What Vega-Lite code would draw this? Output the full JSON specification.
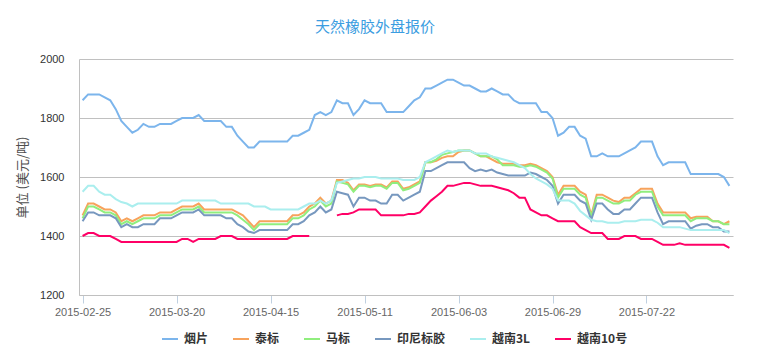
{
"$schema": "https://vega.github.io/schema/vega-lite/v6.json",
"width": 654, "height": 236,
"autosize": {"type": "none"},
"padding": {"left": 79, "top": 59, "right": 24, "bottom": 68},
"background": "white",
"config": {"view": {"stroke": null}, "font": "Liberation Sans"},
"title": {"text": "天然橡胶外盘报价", "font": "Noto Sans CJK SC", "fontSize": 15, "fontWeight": "normal", "color": "#3b9de1", "anchor": "middle", "frame": "bounds", "offset": 18},
"datasets": {"rows": [
{"d":"2015-02-25","s":"烟片","v":1860},{"d":"2015-02-26","s":"烟片","v":1880},{"d":"2015-02-27","s":"烟片","v":1880},{"d":"2015-03-02","s":"烟片","v":1880},{"d":"2015-03-03","s":"烟片","v":1870},{"d":"2015-03-04","s":"烟片","v":1860},{"d":"2015-03-05","s":"烟片","v":1830},{"d":"2015-03-06","s":"烟片","v":1790},{"d":"2015-03-09","s":"烟片","v":1770},{"d":"2015-03-10","s":"烟片","v":1750},
{"d":"2015-03-11","s":"烟片","v":1760},{"d":"2015-03-12","s":"烟片","v":1780},{"d":"2015-03-13","s":"烟片","v":1770},{"d":"2015-03-16","s":"烟片","v":1770},{"d":"2015-03-17","s":"烟片","v":1780},{"d":"2015-03-18","s":"烟片","v":1780},{"d":"2015-03-19","s":"烟片","v":1780},{"d":"2015-03-20","s":"烟片","v":1790},{"d":"2015-03-23","s":"烟片","v":1800},{"d":"2015-03-24","s":"烟片","v":1800},
{"d":"2015-03-25","s":"烟片","v":1800},{"d":"2015-03-26","s":"烟片","v":1810},{"d":"2015-03-27","s":"烟片","v":1790},{"d":"2015-03-30","s":"烟片","v":1790},{"d":"2015-03-31","s":"烟片","v":1790},{"d":"2015-04-01","s":"烟片","v":1790},{"d":"2015-04-02","s":"烟片","v":1770},{"d":"2015-04-06","s":"烟片","v":1770},{"d":"2015-04-07","s":"烟片","v":1740},{"d":"2015-04-08","s":"烟片","v":1720},
{"d":"2015-04-09","s":"烟片","v":1700},{"d":"2015-04-10","s":"烟片","v":1700},{"d":"2015-04-13","s":"烟片","v":1720},{"d":"2015-04-14","s":"烟片","v":1720},{"d":"2015-04-15","s":"烟片","v":1720},{"d":"2015-04-16","s":"烟片","v":1720},{"d":"2015-04-17","s":"烟片","v":1720},{"d":"2015-04-20","s":"烟片","v":1720},{"d":"2015-04-21","s":"烟片","v":1740},{"d":"2015-04-22","s":"烟片","v":1740},
{"d":"2015-04-23","s":"烟片","v":1750},{"d":"2015-04-24","s":"烟片","v":1760},{"d":"2015-04-27","s":"烟片","v":1810},{"d":"2015-04-28","s":"烟片","v":1820},{"d":"2015-04-29","s":"烟片","v":1810},{"d":"2015-04-30","s":"烟片","v":1820},{"d":"2015-05-04","s":"烟片","v":1860},{"d":"2015-05-05","s":"烟片","v":1850},{"d":"2015-05-06","s":"烟片","v":1850},{"d":"2015-05-07","s":"烟片","v":1810},
{"d":"2015-05-08","s":"烟片","v":1830},{"d":"2015-05-11","s":"烟片","v":1860},{"d":"2015-05-12","s":"烟片","v":1850},{"d":"2015-05-13","s":"烟片","v":1850},{"d":"2015-05-14","s":"烟片","v":1850},{"d":"2015-05-15","s":"烟片","v":1820},{"d":"2015-05-18","s":"烟片","v":1820},{"d":"2015-05-19","s":"烟片","v":1820},{"d":"2015-05-20","s":"烟片","v":1820},{"d":"2015-05-21","s":"烟片","v":1840},
{"d":"2015-05-22","s":"烟片","v":1860},{"d":"2015-05-25","s":"烟片","v":1870},{"d":"2015-05-26","s":"烟片","v":1900},{"d":"2015-05-27","s":"烟片","v":1900},{"d":"2015-05-28","s":"烟片","v":1910},{"d":"2015-05-29","s":"烟片","v":1920},{"d":"2015-06-01","s":"烟片","v":1930},{"d":"2015-06-02","s":"烟片","v":1930},{"d":"2015-06-03","s":"烟片","v":1920},{"d":"2015-06-04","s":"烟片","v":1910},
{"d":"2015-06-05","s":"烟片","v":1910},{"d":"2015-06-08","s":"烟片","v":1900},{"d":"2015-06-09","s":"烟片","v":1890},{"d":"2015-06-10","s":"烟片","v":1890},{"d":"2015-06-11","s":"烟片","v":1900},{"d":"2015-06-12","s":"烟片","v":1890},{"d":"2015-06-15","s":"烟片","v":1880},{"d":"2015-06-16","s":"烟片","v":1880},{"d":"2015-06-17","s":"烟片","v":1860},{"d":"2015-06-18","s":"烟片","v":1850},
{"d":"2015-06-19","s":"烟片","v":1850},{"d":"2015-06-23","s":"烟片","v":1850},{"d":"2015-06-24","s":"烟片","v":1850},{"d":"2015-06-25","s":"烟片","v":1820},{"d":"2015-06-26","s":"烟片","v":1820},{"d":"2015-06-29","s":"烟片","v":1800},{"d":"2015-06-30","s":"烟片","v":1740},{"d":"2015-07-01","s":"烟片","v":1750},{"d":"2015-07-02","s":"烟片","v":1770},{"d":"2015-07-03","s":"烟片","v":1770},
{"d":"2015-07-06","s":"烟片","v":1740},{"d":"2015-07-07","s":"烟片","v":1730},{"d":"2015-07-08","s":"烟片","v":1670},{"d":"2015-07-09","s":"烟片","v":1670},{"d":"2015-07-10","s":"烟片","v":1680},{"d":"2015-07-13","s":"烟片","v":1670},{"d":"2015-07-14","s":"烟片","v":1670},{"d":"2015-07-15","s":"烟片","v":1670},{"d":"2015-07-16","s":"烟片","v":1680},{"d":"2015-07-17","s":"烟片","v":1690},
{"d":"2015-07-20","s":"烟片","v":1700},{"d":"2015-07-21","s":"烟片","v":1720},{"d":"2015-07-22","s":"烟片","v":1720},{"d":"2015-07-23","s":"烟片","v":1720},{"d":"2015-07-24","s":"烟片","v":1670},{"d":"2015-07-27","s":"烟片","v":1640},{"d":"2015-07-28","s":"烟片","v":1650},{"d":"2015-07-29","s":"烟片","v":1650},{"d":"2015-07-30","s":"烟片","v":1650},{"d":"2015-07-31","s":"烟片","v":1650},
{"d":"2015-08-03","s":"烟片","v":1610},{"d":"2015-08-04","s":"烟片","v":1610},{"d":"2015-08-05","s":"烟片","v":1610},{"d":"2015-08-06","s":"烟片","v":1610},{"d":"2015-08-07","s":"烟片","v":1610},{"d":"2015-08-10","s":"烟片","v":1610},{"d":"2015-08-11","s":"烟片","v":1600},{"d":"2015-08-12","s":"烟片","v":1570},

{"d":"2015-02-25","s":"泰标","v":1470},{"d":"2015-02-26","s":"泰标","v":1510},{"d":"2015-02-27","s":"泰标","v":1510},{"d":"2015-03-02","s":"泰标","v":1500},{"d":"2015-03-03","s":"泰标","v":1490},{"d":"2015-03-04","s":"泰标","v":1490},{"d":"2015-03-05","s":"泰标","v":1480},{"d":"2015-03-06","s":"泰标","v":1450},{"d":"2015-03-09","s":"泰标","v":1460},{"d":"2015-03-10","s":"泰标","v":1450},
{"d":"2015-03-11","s":"泰标","v":1460},{"d":"2015-03-12","s":"泰标","v":1470},{"d":"2015-03-13","s":"泰标","v":1470},{"d":"2015-03-16","s":"泰标","v":1470},{"d":"2015-03-17","s":"泰标","v":1480},{"d":"2015-03-18","s":"泰标","v":1480},{"d":"2015-03-19","s":"泰标","v":1480},{"d":"2015-03-20","s":"泰标","v":1490},{"d":"2015-03-23","s":"泰标","v":1500},{"d":"2015-03-24","s":"泰标","v":1500},
{"d":"2015-03-25","s":"泰标","v":1500},{"d":"2015-03-26","s":"泰标","v":1510},{"d":"2015-03-27","s":"泰标","v":1490},{"d":"2015-03-30","s":"泰标","v":1490},{"d":"2015-03-31","s":"泰标","v":1490},{"d":"2015-04-01","s":"泰标","v":1490},{"d":"2015-04-02","s":"泰标","v":1490},{"d":"2015-04-06","s":"泰标","v":1490},{"d":"2015-04-07","s":"泰标","v":1480},{"d":"2015-04-08","s":"泰标","v":1470},
{"d":"2015-04-09","s":"泰标","v":1450},{"d":"2015-04-10","s":"泰标","v":1430},{"d":"2015-04-13","s":"泰标","v":1450},{"d":"2015-04-14","s":"泰标","v":1450},{"d":"2015-04-15","s":"泰标","v":1450},{"d":"2015-04-16","s":"泰标","v":1450},{"d":"2015-04-17","s":"泰标","v":1450},{"d":"2015-04-20","s":"泰标","v":1450},{"d":"2015-04-21","s":"泰标","v":1470},{"d":"2015-04-22","s":"泰标","v":1470},
{"d":"2015-04-23","s":"泰标","v":1480},{"d":"2015-04-24","s":"泰标","v":1500},{"d":"2015-04-27","s":"泰标","v":1510},{"d":"2015-04-28","s":"泰标","v":1530},{"d":"2015-04-29","s":"泰标","v":1510},{"d":"2015-04-30","s":"泰标","v":1520},{"d":"2015-05-04","s":"泰标","v":1590},{"d":"2015-05-05","s":"泰标","v":1590},{"d":"2015-05-06","s":"泰标","v":1580},{"d":"2015-05-07","s":"泰标","v":1555},
{"d":"2015-05-08","s":"泰标","v":1575},{"d":"2015-05-11","s":"泰标","v":1575},{"d":"2015-05-12","s":"泰标","v":1570},{"d":"2015-05-13","s":"泰标","v":1575},{"d":"2015-05-14","s":"泰标","v":1575},{"d":"2015-05-15","s":"泰标","v":1565},{"d":"2015-05-18","s":"泰标","v":1585},{"d":"2015-05-19","s":"泰标","v":1585},{"d":"2015-05-20","s":"泰标","v":1560},{"d":"2015-05-21","s":"泰标","v":1565},
{"d":"2015-05-22","s":"泰标","v":1575},{"d":"2015-05-25","s":"泰标","v":1585},{"d":"2015-05-26","s":"泰标","v":1650},{"d":"2015-05-27","s":"泰标","v":1650},{"d":"2015-05-28","s":"泰标","v":1655},{"d":"2015-05-29","s":"泰标","v":1665},{"d":"2015-06-01","s":"泰标","v":1670},{"d":"2015-06-02","s":"泰标","v":1670},{"d":"2015-06-03","s":"泰标","v":1685},{"d":"2015-06-04","s":"泰标","v":1690},
{"d":"2015-06-05","s":"泰标","v":1690},{"d":"2015-06-08","s":"泰标","v":1680},{"d":"2015-06-09","s":"泰标","v":1670},{"d":"2015-06-10","s":"泰标","v":1670},{"d":"2015-06-11","s":"泰标","v":1660},{"d":"2015-06-12","s":"泰标","v":1650},{"d":"2015-06-15","s":"泰标","v":1645},{"d":"2015-06-16","s":"泰标","v":1645},{"d":"2015-06-17","s":"泰标","v":1645},{"d":"2015-06-18","s":"泰标","v":1640},
{"d":"2015-06-19","s":"泰标","v":1640},{"d":"2015-06-23","s":"泰标","v":1645},{"d":"2015-06-24","s":"泰标","v":1640},{"d":"2015-06-25","s":"泰标","v":1630},{"d":"2015-06-26","s":"泰标","v":1620},{"d":"2015-06-29","s":"泰标","v":1600},{"d":"2015-06-30","s":"泰标","v":1540},{"d":"2015-07-01","s":"泰标","v":1570},{"d":"2015-07-02","s":"泰标","v":1570},{"d":"2015-07-03","s":"泰标","v":1570},
{"d":"2015-07-06","s":"泰标","v":1550},{"d":"2015-07-07","s":"泰标","v":1540},{"d":"2015-07-08","s":"泰标","v":1470},{"d":"2015-07-09","s":"泰标","v":1540},{"d":"2015-07-10","s":"泰标","v":1540},{"d":"2015-07-13","s":"泰标","v":1530},{"d":"2015-07-14","s":"泰标","v":1520},{"d":"2015-07-15","s":"泰标","v":1515},{"d":"2015-07-16","s":"泰标","v":1530},{"d":"2015-07-17","s":"泰标","v":1530},
{"d":"2015-07-20","s":"泰标","v":1545},{"d":"2015-07-21","s":"泰标","v":1560},{"d":"2015-07-22","s":"泰标","v":1560},{"d":"2015-07-23","s":"泰标","v":1560},{"d":"2015-07-24","s":"泰标","v":1510},{"d":"2015-07-27","s":"泰标","v":1480},{"d":"2015-07-28","s":"泰标","v":1480},{"d":"2015-07-29","s":"泰标","v":1480},{"d":"2015-07-30","s":"泰标","v":1480},{"d":"2015-07-31","s":"泰标","v":1480},
{"d":"2015-08-03","s":"泰标","v":1460},{"d":"2015-08-04","s":"泰标","v":1465},{"d":"2015-08-05","s":"泰标","v":1465},{"d":"2015-08-06","s":"泰标","v":1465},{"d":"2015-08-07","s":"泰标","v":1450},{"d":"2015-08-10","s":"泰标","v":1450},{"d":"2015-08-11","s":"泰标","v":1440},{"d":"2015-08-12","s":"泰标","v":1450},

{"d":"2015-02-25","s":"马标","v":1460},{"d":"2015-02-26","s":"马标","v":1500},{"d":"2015-02-27","s":"马标","v":1500},{"d":"2015-03-02","s":"马标","v":1490},{"d":"2015-03-03","s":"马标","v":1480},{"d":"2015-03-04","s":"马标","v":1480},{"d":"2015-03-05","s":"马标","v":1470},{"d":"2015-03-06","s":"马标","v":1440},{"d":"2015-03-09","s":"马标","v":1450},{"d":"2015-03-10","s":"马标","v":1440},
{"d":"2015-03-11","s":"马标","v":1450},{"d":"2015-03-12","s":"马标","v":1460},{"d":"2015-03-13","s":"马标","v":1460},{"d":"2015-03-16","s":"马标","v":1460},{"d":"2015-03-17","s":"马标","v":1470},{"d":"2015-03-18","s":"马标","v":1470},{"d":"2015-03-19","s":"马标","v":1470},{"d":"2015-03-20","s":"马标","v":1480},{"d":"2015-03-23","s":"马标","v":1490},{"d":"2015-03-24","s":"马标","v":1490},
{"d":"2015-03-25","s":"马标","v":1490},{"d":"2015-03-26","s":"马标","v":1500},{"d":"2015-03-27","s":"马标","v":1480},{"d":"2015-03-30","s":"马标","v":1480},{"d":"2015-03-31","s":"马标","v":1480},{"d":"2015-04-01","s":"马标","v":1480},{"d":"2015-04-02","s":"马标","v":1480},{"d":"2015-04-06","s":"马标","v":1480},{"d":"2015-04-07","s":"马标","v":1470},{"d":"2015-04-08","s":"马标","v":1455},
{"d":"2015-04-09","s":"马标","v":1440},{"d":"2015-04-10","s":"马标","v":1420},{"d":"2015-04-13","s":"马标","v":1440},{"d":"2015-04-14","s":"马标","v":1440},{"d":"2015-04-15","s":"马标","v":1440},{"d":"2015-04-16","s":"马标","v":1440},{"d":"2015-04-17","s":"马标","v":1440},{"d":"2015-04-20","s":"马标","v":1440},{"d":"2015-04-21","s":"马标","v":1460},{"d":"2015-04-22","s":"马标","v":1460},
{"d":"2015-04-23","s":"马标","v":1470},{"d":"2015-04-24","s":"马标","v":1490},{"d":"2015-04-27","s":"马标","v":1500},{"d":"2015-04-28","s":"马标","v":1520},{"d":"2015-04-29","s":"马标","v":1500},{"d":"2015-04-30","s":"马标","v":1510},{"d":"2015-05-04","s":"马标","v":1585},{"d":"2015-05-05","s":"马标","v":1580},{"d":"2015-05-06","s":"马标","v":1575},{"d":"2015-05-07","s":"马标","v":1550},
{"d":"2015-05-08","s":"马标","v":1570},{"d":"2015-05-11","s":"马标","v":1570},{"d":"2015-05-12","s":"马标","v":1565},{"d":"2015-05-13","s":"马标","v":1570},{"d":"2015-05-14","s":"马标","v":1570},{"d":"2015-05-15","s":"马标","v":1560},{"d":"2015-05-18","s":"马标","v":1580},{"d":"2015-05-19","s":"马标","v":1580},{"d":"2015-05-20","s":"马标","v":1555},{"d":"2015-05-21","s":"马标","v":1560},
{"d":"2015-05-22","s":"马标","v":1570},{"d":"2015-05-25","s":"马标","v":1580},{"d":"2015-05-26","s":"马标","v":1650},{"d":"2015-05-27","s":"马标","v":1650},{"d":"2015-05-28","s":"马标","v":1660},{"d":"2015-05-29","s":"马标","v":1675},{"d":"2015-06-01","s":"马标","v":1680},{"d":"2015-06-02","s":"马标","v":1685},{"d":"2015-06-03","s":"马标","v":1690},{"d":"2015-06-04","s":"马标","v":1690},
{"d":"2015-06-05","s":"马标","v":1690},{"d":"2015-06-08","s":"马标","v":1680},{"d":"2015-06-09","s":"马标","v":1670},{"d":"2015-06-10","s":"马标","v":1670},{"d":"2015-06-11","s":"马标","v":1670},{"d":"2015-06-12","s":"马标","v":1660},{"d":"2015-06-15","s":"马标","v":1640},{"d":"2015-06-16","s":"马标","v":1640},{"d":"2015-06-17","s":"马标","v":1640},{"d":"2015-06-18","s":"马标","v":1635},
{"d":"2015-06-19","s":"马标","v":1635},{"d":"2015-06-23","s":"马标","v":1640},{"d":"2015-06-24","s":"马标","v":1635},{"d":"2015-06-25","s":"马标","v":1625},{"d":"2015-06-26","s":"马标","v":1615},{"d":"2015-06-29","s":"马标","v":1595},{"d":"2015-06-30","s":"马标","v":1530},{"d":"2015-07-01","s":"马标","v":1560},{"d":"2015-07-02","s":"马标","v":1560},{"d":"2015-07-03","s":"马标","v":1560},
{"d":"2015-07-06","s":"马标","v":1540},{"d":"2015-07-07","s":"马标","v":1530},{"d":"2015-07-08","s":"马标","v":1465},{"d":"2015-07-09","s":"马标","v":1530},{"d":"2015-07-10","s":"马标","v":1530},{"d":"2015-07-13","s":"马标","v":1520},{"d":"2015-07-14","s":"马标","v":1510},{"d":"2015-07-15","s":"马标","v":1510},{"d":"2015-07-16","s":"马标","v":1520},{"d":"2015-07-17","s":"马标","v":1520},
{"d":"2015-07-20","s":"马标","v":1540},{"d":"2015-07-21","s":"马标","v":1550},{"d":"2015-07-22","s":"马标","v":1550},{"d":"2015-07-23","s":"马标","v":1550},{"d":"2015-07-24","s":"马标","v":1500},{"d":"2015-07-27","s":"马标","v":1470},{"d":"2015-07-28","s":"马标","v":1470},{"d":"2015-07-29","s":"马标","v":1470},{"d":"2015-07-30","s":"马标","v":1470},{"d":"2015-07-31","s":"马标","v":1470},
{"d":"2015-08-03","s":"马标","v":1450},{"d":"2015-08-04","s":"马标","v":1460},{"d":"2015-08-05","s":"马标","v":1460},{"d":"2015-08-06","s":"马标","v":1460},{"d":"2015-08-07","s":"马标","v":1450},{"d":"2015-08-10","s":"马标","v":1450},{"d":"2015-08-11","s":"马标","v":1440},{"d":"2015-08-12","s":"马标","v":1440},

{"d":"2015-02-25","s":"印尼标胶","v":1450},{"d":"2015-02-26","s":"印尼标胶","v":1480},{"d":"2015-02-27","s":"印尼标胶","v":1480},{"d":"2015-03-02","s":"印尼标胶","v":1470},{"d":"2015-03-03","s":"印尼标胶","v":1470},{"d":"2015-03-04","s":"印尼标胶","v":1470},{"d":"2015-03-05","s":"印尼标胶","v":1460},{"d":"2015-03-06","s":"印尼标胶","v":1430},{"d":"2015-03-09","s":"印尼标胶","v":1440},{"d":"2015-03-10","s":"印尼标胶","v":1430},
{"d":"2015-03-11","s":"印尼标胶","v":1430},{"d":"2015-03-12","s":"印尼标胶","v":1440},{"d":"2015-03-13","s":"印尼标胶","v":1440},{"d":"2015-03-16","s":"印尼标胶","v":1440},{"d":"2015-03-17","s":"印尼标胶","v":1460},{"d":"2015-03-18","s":"印尼标胶","v":1460},{"d":"2015-03-19","s":"印尼标胶","v":1460},{"d":"2015-03-20","s":"印尼标胶","v":1470},{"d":"2015-03-23","s":"印尼标胶","v":1480},{"d":"2015-03-24","s":"印尼标胶","v":1480},
{"d":"2015-03-25","s":"印尼标胶","v":1480},{"d":"2015-03-26","s":"印尼标胶","v":1490},{"d":"2015-03-27","s":"印尼标胶","v":1470},{"d":"2015-03-30","s":"印尼标胶","v":1470},{"d":"2015-03-31","s":"印尼标胶","v":1470},{"d":"2015-04-01","s":"印尼标胶","v":1470},{"d":"2015-04-02","s":"印尼标胶","v":1460},{"d":"2015-04-06","s":"印尼标胶","v":1460},{"d":"2015-04-07","s":"印尼标胶","v":1440},{"d":"2015-04-08","s":"印尼标胶","v":1430},
{"d":"2015-04-09","s":"印尼标胶","v":1415},{"d":"2015-04-10","s":"印尼标胶","v":1410},{"d":"2015-04-13","s":"印尼标胶","v":1420},{"d":"2015-04-14","s":"印尼标胶","v":1420},{"d":"2015-04-15","s":"印尼标胶","v":1420},{"d":"2015-04-16","s":"印尼标胶","v":1420},{"d":"2015-04-17","s":"印尼标胶","v":1420},{"d":"2015-04-20","s":"印尼标胶","v":1420},{"d":"2015-04-21","s":"印尼标胶","v":1440},{"d":"2015-04-22","s":"印尼标胶","v":1440},
{"d":"2015-04-23","s":"印尼标胶","v":1450},{"d":"2015-04-24","s":"印尼标胶","v":1470},{"d":"2015-04-27","s":"印尼标胶","v":1480},{"d":"2015-04-28","s":"印尼标胶","v":1500},{"d":"2015-04-29","s":"印尼标胶","v":1480},{"d":"2015-04-30","s":"印尼标胶","v":1490},{"d":"2015-05-04","s":"印尼标胶","v":1550},{"d":"2015-05-05","s":"印尼标胶","v":1545},{"d":"2015-05-06","s":"印尼标胶","v":1540},{"d":"2015-05-07","s":"印尼标胶","v":1500},
{"d":"2015-05-08","s":"印尼标胶","v":1530},{"d":"2015-05-11","s":"印尼标胶","v":1530},{"d":"2015-05-12","s":"印尼标胶","v":1520},{"d":"2015-05-13","s":"印尼标胶","v":1520},{"d":"2015-05-14","s":"印尼标胶","v":1510},{"d":"2015-05-15","s":"印尼标胶","v":1510},{"d":"2015-05-18","s":"印尼标胶","v":1540},{"d":"2015-05-19","s":"印尼标胶","v":1540},{"d":"2015-05-20","s":"印尼标胶","v":1520},{"d":"2015-05-21","s":"印尼标胶","v":1530},
{"d":"2015-05-22","s":"印尼标胶","v":1540},{"d":"2015-05-25","s":"印尼标胶","v":1550},{"d":"2015-05-26","s":"印尼标胶","v":1620},{"d":"2015-05-27","s":"印尼标胶","v":1620},{"d":"2015-05-28","s":"印尼标胶","v":1630},{"d":"2015-05-29","s":"印尼标胶","v":1640},{"d":"2015-06-01","s":"印尼标胶","v":1650},{"d":"2015-06-02","s":"印尼标胶","v":1650},{"d":"2015-06-03","s":"印尼标胶","v":1650},{"d":"2015-06-04","s":"印尼标胶","v":1650},
{"d":"2015-06-05","s":"印尼标胶","v":1630},{"d":"2015-06-08","s":"印尼标胶","v":1620},{"d":"2015-06-09","s":"印尼标胶","v":1625},{"d":"2015-06-10","s":"印尼标胶","v":1620},{"d":"2015-06-11","s":"印尼标胶","v":1625},{"d":"2015-06-12","s":"印尼标胶","v":1615},{"d":"2015-06-15","s":"印尼标胶","v":1610},{"d":"2015-06-16","s":"印尼标胶","v":1605},{"d":"2015-06-17","s":"印尼标胶","v":1605},{"d":"2015-06-18","s":"印尼标胶","v":1605},
{"d":"2015-06-19","s":"印尼标胶","v":1605},{"d":"2015-06-23","s":"印尼标胶","v":1615},{"d":"2015-06-24","s":"印尼标胶","v":1610},{"d":"2015-06-25","s":"印尼标胶","v":1600},{"d":"2015-06-26","s":"印尼标胶","v":1590},{"d":"2015-06-29","s":"印尼标胶","v":1570},{"d":"2015-06-30","s":"印尼标胶","v":1510},{"d":"2015-07-01","s":"印尼标胶","v":1540},{"d":"2015-07-02","s":"印尼标胶","v":1540},{"d":"2015-07-03","s":"印尼标胶","v":1540},
{"d":"2015-07-06","s":"印尼标胶","v":1520},{"d":"2015-07-07","s":"印尼标胶","v":1510},{"d":"2015-07-08","s":"印尼标胶","v":1455},{"d":"2015-07-09","s":"印尼标胶","v":1510},{"d":"2015-07-10","s":"印尼标胶","v":1510},{"d":"2015-07-13","s":"印尼标胶","v":1490},{"d":"2015-07-14","s":"印尼标胶","v":1475},{"d":"2015-07-15","s":"印尼标胶","v":1475},{"d":"2015-07-16","s":"印尼标胶","v":1490},{"d":"2015-07-17","s":"印尼标胶","v":1490},
{"d":"2015-07-20","s":"印尼标胶","v":1510},{"d":"2015-07-21","s":"印尼标胶","v":1530},{"d":"2015-07-22","s":"印尼标胶","v":1530},{"d":"2015-07-23","s":"印尼标胶","v":1530},{"d":"2015-07-24","s":"印尼标胶","v":1480},{"d":"2015-07-27","s":"印尼标胶","v":1440},{"d":"2015-07-28","s":"印尼标胶","v":1450},{"d":"2015-07-29","s":"印尼标胶","v":1450},{"d":"2015-07-30","s":"印尼标胶","v":1450},{"d":"2015-07-31","s":"印尼标胶","v":1450},
{"d":"2015-08-03","s":"印尼标胶","v":1425},{"d":"2015-08-04","s":"印尼标胶","v":1435},{"d":"2015-08-05","s":"印尼标胶","v":1440},{"d":"2015-08-06","s":"印尼标胶","v":1440},{"d":"2015-08-07","s":"印尼标胶","v":1430},{"d":"2015-08-10","s":"印尼标胶","v":1430},{"d":"2015-08-11","s":"印尼标胶","v":1415},{"d":"2015-08-12","s":"印尼标胶","v":1415},

{"d":"2015-02-25","s":"越南3L","v":1550},{"d":"2015-02-26","s":"越南3L","v":1570},{"d":"2015-02-27","s":"越南3L","v":1570},{"d":"2015-03-02","s":"越南3L","v":1550},{"d":"2015-03-03","s":"越南3L","v":1540},{"d":"2015-03-04","s":"越南3L","v":1540},{"d":"2015-03-05","s":"越南3L","v":1525},{"d":"2015-03-06","s":"越南3L","v":1515},{"d":"2015-03-09","s":"越南3L","v":1510},{"d":"2015-03-10","s":"越南3L","v":1500},
{"d":"2015-03-11","s":"越南3L","v":1510},{"d":"2015-03-12","s":"越南3L","v":1510},{"d":"2015-03-13","s":"越南3L","v":1510},{"d":"2015-03-16","s":"越南3L","v":1510},{"d":"2015-03-17","s":"越南3L","v":1510},{"d":"2015-03-18","s":"越南3L","v":1510},{"d":"2015-03-19","s":"越南3L","v":1510},{"d":"2015-03-20","s":"越南3L","v":1510},{"d":"2015-03-23","s":"越南3L","v":1520},{"d":"2015-03-24","s":"越南3L","v":1520},
{"d":"2015-03-25","s":"越南3L","v":1520},{"d":"2015-03-26","s":"越南3L","v":1520},{"d":"2015-03-27","s":"越南3L","v":1520},{"d":"2015-03-30","s":"越南3L","v":1520},{"d":"2015-03-31","s":"越南3L","v":1520},{"d":"2015-04-01","s":"越南3L","v":1510},{"d":"2015-04-02","s":"越南3L","v":1510},{"d":"2015-04-06","s":"越南3L","v":1510},{"d":"2015-04-07","s":"越南3L","v":1510},{"d":"2015-04-08","s":"越南3L","v":1510},
{"d":"2015-04-09","s":"越南3L","v":1510},{"d":"2015-04-10","s":"越南3L","v":1500},{"d":"2015-04-13","s":"越南3L","v":1500},{"d":"2015-04-14","s":"越南3L","v":1500},{"d":"2015-04-15","s":"越南3L","v":1490},{"d":"2015-04-16","s":"越南3L","v":1490},{"d":"2015-04-17","s":"越南3L","v":1490},{"d":"2015-04-20","s":"越南3L","v":1490},{"d":"2015-04-21","s":"越南3L","v":1490},{"d":"2015-04-22","s":"越南3L","v":1490},
{"d":"2015-04-23","s":"越南3L","v":1500},{"d":"2015-04-24","s":"越南3L","v":1510},{"d":"2015-04-27","s":"越南3L","v":1510},{"d":"2015-04-28","s":"越南3L","v":1520},{"d":"2015-04-29","s":"越南3L","v":1510},{"d":"2015-04-30","s":"越南3L","v":1520},{"d":"2015-05-04","s":"越南3L","v":1580},{"d":"2015-05-05","s":"越南3L","v":1585},{"d":"2015-05-06","s":"越南3L","v":1590},{"d":"2015-05-07","s":"越南3L","v":1595},
{"d":"2015-05-08","s":"越南3L","v":1595},{"d":"2015-05-11","s":"越南3L","v":1600},{"d":"2015-05-12","s":"越南3L","v":1600},{"d":"2015-05-13","s":"越南3L","v":1600},{"d":"2015-05-14","s":"越南3L","v":1595},{"d":"2015-05-15","s":"越南3L","v":1595},{"d":"2015-05-18","s":"越南3L","v":1595},{"d":"2015-05-19","s":"越南3L","v":1595},{"d":"2015-05-20","s":"越南3L","v":1590},{"d":"2015-05-21","s":"越南3L","v":1590},
{"d":"2015-05-22","s":"越南3L","v":1590},{"d":"2015-05-25","s":"越南3L","v":1600},{"d":"2015-05-26","s":"越南3L","v":1650},{"d":"2015-05-27","s":"越南3L","v":1660},{"d":"2015-05-28","s":"越南3L","v":1670},{"d":"2015-05-29","s":"越南3L","v":1680},{"d":"2015-06-01","s":"越南3L","v":1690},{"d":"2015-06-02","s":"越南3L","v":1685},{"d":"2015-06-03","s":"越南3L","v":1690},{"d":"2015-06-04","s":"越南3L","v":1690},
{"d":"2015-06-05","s":"越南3L","v":1690},{"d":"2015-06-08","s":"越南3L","v":1680},{"d":"2015-06-09","s":"越南3L","v":1680},{"d":"2015-06-10","s":"越南3L","v":1680},{"d":"2015-06-11","s":"越南3L","v":1670},{"d":"2015-06-12","s":"越南3L","v":1665},{"d":"2015-06-15","s":"越南3L","v":1660},{"d":"2015-06-16","s":"越南3L","v":1655},{"d":"2015-06-17","s":"越南3L","v":1650},{"d":"2015-06-18","s":"越南3L","v":1640},
{"d":"2015-06-19","s":"越南3L","v":1630},{"d":"2015-06-23","s":"越南3L","v":1610},{"d":"2015-06-24","s":"越南3L","v":1595},{"d":"2015-06-25","s":"越南3L","v":1585},{"d":"2015-06-26","s":"越南3L","v":1575},{"d":"2015-06-29","s":"越南3L","v":1560},{"d":"2015-06-30","s":"越南3L","v":1520},{"d":"2015-07-01","s":"越南3L","v":1520},{"d":"2015-07-02","s":"越南3L","v":1520},{"d":"2015-07-03","s":"越南3L","v":1510},
{"d":"2015-07-06","s":"越南3L","v":1485},{"d":"2015-07-07","s":"越南3L","v":1470},{"d":"2015-07-08","s":"越南3L","v":1455},{"d":"2015-07-09","s":"越南3L","v":1450},{"d":"2015-07-10","s":"越南3L","v":1450},{"d":"2015-07-13","s":"越南3L","v":1445},{"d":"2015-07-14","s":"越南3L","v":1445},{"d":"2015-07-15","s":"越南3L","v":1445},{"d":"2015-07-16","s":"越南3L","v":1450},{"d":"2015-07-17","s":"越南3L","v":1450},
{"d":"2015-07-20","s":"越南3L","v":1450},{"d":"2015-07-21","s":"越南3L","v":1455},{"d":"2015-07-22","s":"越南3L","v":1455},{"d":"2015-07-23","s":"越南3L","v":1455},{"d":"2015-07-24","s":"越南3L","v":1445},{"d":"2015-07-27","s":"越南3L","v":1430},{"d":"2015-07-28","s":"越南3L","v":1430},{"d":"2015-07-29","s":"越南3L","v":1430},{"d":"2015-07-30","s":"越南3L","v":1430},{"d":"2015-07-31","s":"越南3L","v":1425},
{"d":"2015-08-03","s":"越南3L","v":1420},{"d":"2015-08-04","s":"越南3L","v":1420},{"d":"2015-08-05","s":"越南3L","v":1420},{"d":"2015-08-06","s":"越南3L","v":1420},{"d":"2015-08-07","s":"越南3L","v":1420},{"d":"2015-08-10","s":"越南3L","v":1420},{"d":"2015-08-11","s":"越南3L","v":1420},{"d":"2015-08-12","s":"越南3L","v":1410},

{"d":"2015-02-25","s":"越南10号","v":1400},{"d":"2015-02-26","s":"越南10号","v":1410},{"d":"2015-02-27","s":"越南10号","v":1410},{"d":"2015-03-02","s":"越南10号","v":1400},{"d":"2015-03-03","s":"越南10号","v":1400},{"d":"2015-03-04","s":"越南10号","v":1400},{"d":"2015-03-05","s":"越南10号","v":1390},{"d":"2015-03-06","s":"越南10号","v":1380},{"d":"2015-03-09","s":"越南10号","v":1380},{"d":"2015-03-10","s":"越南10号","v":1380},
{"d":"2015-03-11","s":"越南10号","v":1380},{"d":"2015-03-12","s":"越南10号","v":1380},{"d":"2015-03-13","s":"越南10号","v":1380},{"d":"2015-03-16","s":"越南10号","v":1380},{"d":"2015-03-17","s":"越南10号","v":1380},{"d":"2015-03-18","s":"越南10号","v":1380},{"d":"2015-03-19","s":"越南10号","v":1380},{"d":"2015-03-20","s":"越南10号","v":1380},{"d":"2015-03-23","s":"越南10号","v":1390},{"d":"2015-03-24","s":"越南10号","v":1390},
{"d":"2015-03-25","s":"越南10号","v":1380},{"d":"2015-03-26","s":"越南10号","v":1390},{"d":"2015-03-27","s":"越南10号","v":1390},{"d":"2015-03-30","s":"越南10号","v":1390},{"d":"2015-03-31","s":"越南10号","v":1390},{"d":"2015-04-01","s":"越南10号","v":1400},{"d":"2015-04-02","s":"越南10号","v":1400},{"d":"2015-04-06","s":"越南10号","v":1400},{"d":"2015-04-07","s":"越南10号","v":1390},{"d":"2015-04-08","s":"越南10号","v":1390},
{"d":"2015-04-09","s":"越南10号","v":1390},{"d":"2015-04-10","s":"越南10号","v":1390},{"d":"2015-04-13","s":"越南10号","v":1390},{"d":"2015-04-14","s":"越南10号","v":1390},{"d":"2015-04-15","s":"越南10号","v":1390},{"d":"2015-04-16","s":"越南10号","v":1390},{"d":"2015-04-17","s":"越南10号","v":1390},{"d":"2015-04-20","s":"越南10号","v":1390},{"d":"2015-04-21","s":"越南10号","v":1400},{"d":"2015-04-22","s":"越南10号","v":1400},
{"d":"2015-04-23","s":"越南10号","v":1400},{"d":"2015-04-24","s":"越南10号","v":1400},{"d":"2015-04-27","s":"越南10号","v":null},{"d":"2015-04-28","s":"越南10号","v":null},{"d":"2015-04-29","s":"越南10号","v":null},{"d":"2015-04-30","s":"越南10号","v":null},{"d":"2015-05-04","s":"越南10号","v":1470},{"d":"2015-05-05","s":"越南10号","v":1475},{"d":"2015-05-06","s":"越南10号","v":1475},{"d":"2015-05-07","s":"越南10号","v":1480},
{"d":"2015-05-08","s":"越南10号","v":1490},{"d":"2015-05-11","s":"越南10号","v":1490},{"d":"2015-05-12","s":"越南10号","v":1490},{"d":"2015-05-13","s":"越南10号","v":1490},{"d":"2015-05-14","s":"越南10号","v":1470},{"d":"2015-05-15","s":"越南10号","v":1470},{"d":"2015-05-18","s":"越南10号","v":1470},{"d":"2015-05-19","s":"越南10号","v":1470},{"d":"2015-05-20","s":"越南10号","v":1470},{"d":"2015-05-21","s":"越南10号","v":1475},
{"d":"2015-05-22","s":"越南10号","v":1475},{"d":"2015-05-25","s":"越南10号","v":1480},{"d":"2015-05-26","s":"越南10号","v":1500},{"d":"2015-05-27","s":"越南10号","v":1520},{"d":"2015-05-28","s":"越南10号","v":1535},{"d":"2015-05-29","s":"越南10号","v":1550},{"d":"2015-06-01","s":"越南10号","v":1570},{"d":"2015-06-02","s":"越南10号","v":1570},{"d":"2015-06-03","s":"越南10号","v":1575},{"d":"2015-06-04","s":"越南10号","v":1580},
{"d":"2015-06-05","s":"越南10号","v":1580},{"d":"2015-06-08","s":"越南10号","v":1575},{"d":"2015-06-09","s":"越南10号","v":1570},{"d":"2015-06-10","s":"越南10号","v":1570},{"d":"2015-06-11","s":"越南10号","v":1570},{"d":"2015-06-12","s":"越南10号","v":1565},{"d":"2015-06-15","s":"越南10号","v":1560},{"d":"2015-06-16","s":"越南10号","v":1555},{"d":"2015-06-17","s":"越南10号","v":1545},{"d":"2015-06-18","s":"越南10号","v":1530},
{"d":"2015-06-19","s":"越南10号","v":1530},{"d":"2015-06-23","s":"越南10号","v":1490},{"d":"2015-06-24","s":"越南10号","v":1480},{"d":"2015-06-25","s":"越南10号","v":1470},{"d":"2015-06-26","s":"越南10号","v":1470},{"d":"2015-06-29","s":"越南10号","v":1460},{"d":"2015-06-30","s":"越南10号","v":1450},{"d":"2015-07-01","s":"越南10号","v":1450},{"d":"2015-07-02","s":"越南10号","v":1450},{"d":"2015-07-03","s":"越南10号","v":1450},
{"d":"2015-07-06","s":"越南10号","v":1430},{"d":"2015-07-07","s":"越南10号","v":1420},{"d":"2015-07-08","s":"越南10号","v":1410},{"d":"2015-07-09","s":"越南10号","v":1410},{"d":"2015-07-10","s":"越南10号","v":1410},{"d":"2015-07-13","s":"越南10号","v":1390},{"d":"2015-07-14","s":"越南10号","v":1390},{"d":"2015-07-15","s":"越南10号","v":1390},{"d":"2015-07-16","s":"越南10号","v":1400},{"d":"2015-07-17","s":"越南10号","v":1400},
{"d":"2015-07-20","s":"越南10号","v":1400},{"d":"2015-07-21","s":"越南10号","v":1390},{"d":"2015-07-22","s":"越南10号","v":1390},{"d":"2015-07-23","s":"越南10号","v":1390},{"d":"2015-07-24","s":"越南10号","v":1380},{"d":"2015-07-27","s":"越南10号","v":1370},{"d":"2015-07-28","s":"越南10号","v":1370},{"d":"2015-07-29","s":"越南10号","v":1370},{"d":"2015-07-30","s":"越南10号","v":1375},{"d":"2015-07-31","s":"越南10号","v":1370},
{"d":"2015-08-03","s":"越南10号","v":1370},{"d":"2015-08-04","s":"越南10号","v":1370},{"d":"2015-08-05","s":"越南10号","v":1370},{"d":"2015-08-06","s":"越南10号","v":1370},{"d":"2015-08-07","s":"越南10号","v":1370},{"d":"2015-08-10","s":"越南10号","v":1370},{"d":"2015-08-11","s":"越南10号","v":1370},{"d":"2015-08-12","s":"越南10号","v":1360}
]},
"data": {"name": "rows"},
"mark": {"type": "line", "strokeWidth": 2, "invalid": "break-paths-filter-domains"},
"encoding": {
  "x": {"field": "d", "type": "ordinal", "scale": {"type": "point", "padding": 0.65},
    "axis": {"values": ["2015-02-25","2015-03-20","2015-04-15","2015-05-11","2015-06-03","2015-06-29","2015-07-22"],
      "title": null, "labelAngle": 0, "labelFont": "Liberation Sans", "labelFontSize": 11, "labelColor": "#666666",
      "tickSize": 8, "tickColor": "#c0d0e0", "domainColor": "#c0c0c0", "labelPadding": 3, "grid": false}},
  "y": {"field": "v", "type": "quantitative", "scale": {"domain": [1200, 2000], "nice": false},
    "axis": {"values": [1200,1400,1600,1800,2000], "format": "d", "title": "单位 (美元/吨)", "titleFont": "Noto Sans CJK SC", "titleFontSize": 13,
      "titleFontWeight": "normal", "titleColor": "#4d4d4d", "titlePadding": 10, "labelFont": "Liberation Sans", "labelFontSize": 11,
      "labelColor": "#333333", "ticks": false, "labelPadding": 15, "domainColor": "#c0c0c0", "gridColor": "#c0c0c0"}},
  "color": {"field": "s", "type": "nominal",
    "scale": {"domain": ["烟片","泰标","马标","印尼标胶","越南3L","越南10号"], "range": ["#7cb5ec","#f7a35c","#90ee7e","#7798bf","#aaeeee","#ff0066"]},
    "legend": {"orient": "none", "legendX": 82, "legendY": 271, "direction": "horizontal", "title": null,
      "symbolType": "stroke", "symbolSize": 256, "symbolStrokeWidth": 2, "labelFont": "Noto Sans CJK SC", "labelFontSize": 12,
      "labelFontWeight": "bold", "labelColor": "#333333", "labelOffset": 5, "columnPadding": 20}}
}
}
